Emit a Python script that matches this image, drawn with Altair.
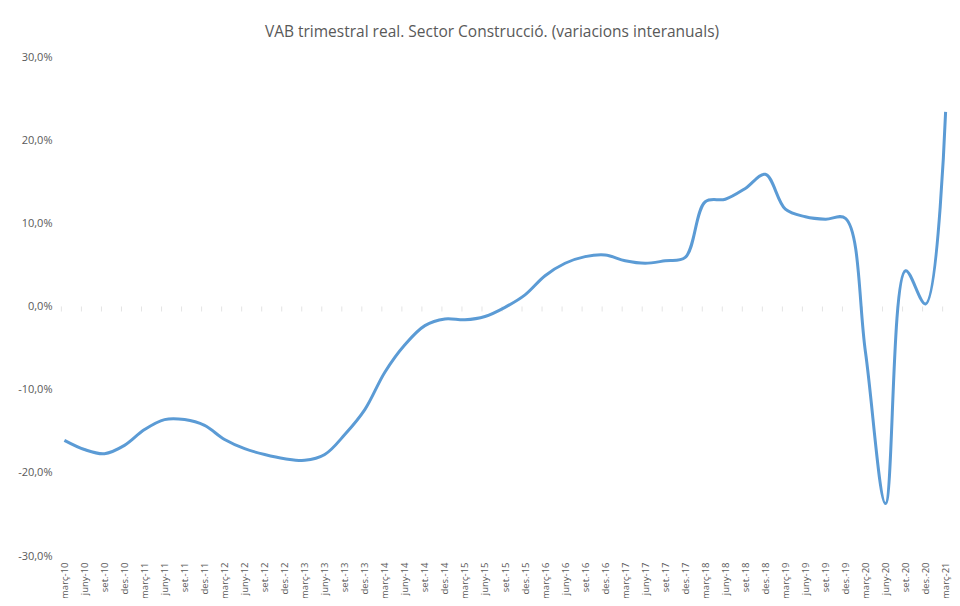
import altair as alt
import pandas as pd

quarters = []
for yy in range(10, 22):
    for q in ["març", "juny", "set.", "des."]:
        quarters.append(f"{q}-{yy:02d}")
quarters = quarters[:45]

values = [-16.1, -17.2, -17.7, -16.7,
          -14.8, -13.6, -13.6, -14.3,
          -16.0, -17.1, -17.8, -18.3,
          -18.5, -17.8, -15.4, -12.4,
          -7.9, -4.6, -2.3, -1.5,
          -1.6, -1.2, -0.1, 1.4,
          3.7, 5.2, 6.0, 6.2,
          5.5, 5.2, 5.5, 5.9,
          12.6, 12.9, 14.2, 15.9,
          11.7, 10.8, 10.5, 10.6,
          -5.5, -23.7, 4.3, 0.3,
          23.4]

y_ticks = [-30, -20, -10, 0, 10, 20, 30]
title_text = "VAB trimestral real. Sector Construcció. (variacions interanuals)"

df = pd.DataFrame({"q": quarters, "v": values})

FONT = "Open Sans"
GRAY = "#595959"

x_enc = alt.X(
    "q:N", sort=quarters,
    scale=alt.Scale(type="point", padding=0.12),
    axis=alt.Axis(title=None, labelAngle=-90, labelFontSize=9.5, labelColor=GRAY,
                  labelFont=FONT, ticks=False, domain=False, grid=False,
                  labelPadding=6, labelOverlap=False),
)
y_enc = alt.Y(
    "v:Q",
    scale=alt.Scale(domain=[-30, 30], nice=False, zero=False),
    axis=alt.Axis(title=None, values=y_ticks, ticks=False, domain=False,
                  gridColor="#d9d9d9", gridWidth=1, labelFontSize=11,
                  labelColor=GRAY, labelFont=FONT, labelPadding=10,
                  labelExpr="(datum.value < 0 ? '-' : '') + replace(format(abs(datum.value), '.1f'), '.', ',') + '%'"),
)

base = alt.Chart(df)

ticks = base.mark_tick(orient="vertical", color="#d9d9d9", size=5, thickness=1,
                       xOffset=-3, yOffset=2.5).encode(
    x=x_enc, y=alt.Y(datum=0, scale=alt.Scale(domain=[-30, 30]))
)

line = base.mark_line(color="#5B9BD5", strokeWidth=3, interpolate="catmull-rom").encode(
    x=x_enc, y=y_enc
)

chart = alt.layer(ticks, line).properties(
    width=886, height=499,
    autosize="none",
    padding={"left": 54, "top": 49, "right": 4, "bottom": 42},
    title=alt.TitleParams(title_text, font=FONT, fontSize=15.5, fontWeight="normal",
                          color=GRAY, anchor="middle", frame="group", dx=-13, offset=11),
).configure_view(stroke=None)

chart.save("out.html", embed_options={"renderer": "svg", "actions": False})
